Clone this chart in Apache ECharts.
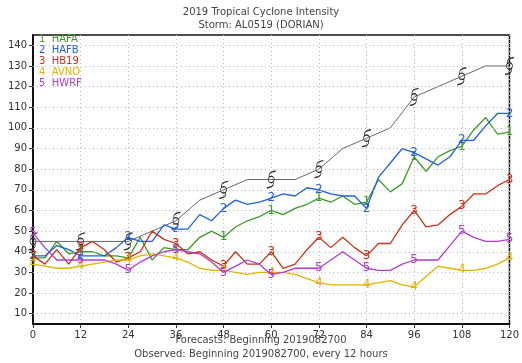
<!DOCTYPE html>
<html>
<head>
<meta charset="utf-8">
<script src="https://cdn.jsdelivr.net/npm/echarts@6/dist/echarts.min.js"></script>
<style>
html,body{margin:0;padding:0;background:#fff;}
#c{width:522px;height:363px;}
</style>
</head>
<body>
<div id="c"></div>
<script>
// ---- data ----
const modelHours = [0,3,6,9,12,15,18,21,24,27,30,33,36,39,42,45,48,51,54,57,60,63,66,69,72,75,78,81,84,87,90,93,96,99,102,105,108,111,114,117,120];
const obsHours = [0,6,12,18,24,30,36,42,48,54,60,66,72,78,84,90,96,102,108,114,120];
const markerHours = [0,12,24,36,48,60,72,84,96,108,120];

const HAFA = [37,37,45,39,40,40,38,38,37,47,36,42,41,41,47,50,47,52,55,57,60,58,61,63,66,64,67,63,64,75,69,73,86,79,86,89,91,99,105,97,98];
const HAFB = [38,38,43,41,38,38,38,42,47,45,45,53,51,51,58,55,61,65,63,64,66,68,67,71,70,68,67,67,61,76,83,90,88,85,82,86,94,94,101,107,107];
const HB19 = [38,34,41,34,42,45,41,35,37,40,50,46,44,39,40,36,33,40,34,34,40,32,34,41,47,42,47,42,38,44,44,53,60,52,53,58,62,68,68,72,75];
const AVNO = [34,33,32,32,33,34,35,36,36,38,39,38,37,35,32,31,31,30,29,30,30,30,29,27,25,24,24,24,24,25,26,24,23,28,33,32,31,31,32,34,37];
const HWRF = [49,42,36,36,36,36,36,34,31,35,38,40,41,40,39,35,30,33,36,34,29,30,32,32,32,36,40,36,32,31,31,34,36,36,36,43,50,47,45,45,46];
const OBS  = [45,45,45,45,45,50,55,65,70,75,75,75,80,90,95,100,115,120,125,130,130];

const modelNames = ['HAFA','HAFB','HB19','AVNO','HWRF'];
const modelLabels = ['1','2','3','4','5'];
const modelValues = [HAFA,HAFB,HB19,AVNO,HWRF];
const modelColors = ['#3c9a28','#2060d8','#c83218','#e2b400','#b23cc8'];

const yTicks = [10,20,30,40,50,60,70,80,90,100,110,120,130,140];

const titleLines = ['2019 Tropical Cyclone Intensity','Storm: AL0519 (DORIAN)'];
const footLines = ['Forecasts: Beginning 2019082700','Observed: Beginning 2019082700, every 12 hours'];

// ---- chart ----
const FONT = 'DejaVu Sans';
const hurricanePath = 'path://M8,8 A3,3 0 1,1 2,8 A3,3 0 1,1 8,8 Z M3,6 C2,2 5,0.5 9.5,0 M7,10 C8,14 5,15.5 0.5,16';

const series = [];
modelValues.forEach((vals, si) => {
  const data = vals.map((v, i) => {
    const h = modelHours[i];
    if (markerHours.indexOf(h) >= 0) {
      return {value:[h, v], symbol:'circle', symbolSize:1,
        label:{show:true, formatter: modelLabels[si]}};
    }
    return {value:[h, v], symbol:'none'};
  });
  series.push({
    name: modelNames[si], type:'line', data: data,
    showAllSymbol: true,
    lineStyle:{color: modelColors[si], width:1.3},
    itemStyle:{color:'rgba(0,0,0,0)'},
    label:{show:false, position:'inside', color: modelColors[si], fontFamily: FONT, fontSize: 12},
    emphasis:{disabled:true},
    animation:false, z: 3 + si
  });
});
series.push({
  name:'OBS', type:'line', showAllSymbol:true,
  data: OBS.map((v, i) => {
    const h = obsHours[i];
    if (markerHours.indexOf(h) >= 0) return {value:[h, v], symbol: hurricanePath, symbolSize:[9,17]};
    return {value:[h, v], symbol:'none'};
  }),
  lineStyle:{color:'#555', width:0.9},
  itemStyle:{color:'rgba(0,0,0,0)', borderColor:'#333', borderWidth:1},
  emphasis:{disabled:true},
  animation:false, z: 2
});
// horizontal dotted grid lines at the labelled y ticks
series.push({
  name:'grid', type:'line', data:[], silent:true, animation:false, z:1,
  markLine:{silent:true, symbol:['none','none'], animation:false,
    label:{show:false},
    lineStyle:{color:'#bbb', type:[1,3], width:1},
    emphasis:{disabled:true},
    data: yTicks.map(v => ({yAxis: v}))}
});

const graphics = [];
titleLines.forEach((t, i) => graphics.push({type:'text', left: 'center', top: 7 + i*13,
  style:{text:t, fill:'#444', font:'10px "DejaVu Sans"'}}));
footLines.forEach((t, i) => graphics.push({type:'text', left: 'center', top: 335 + i*14,
  style:{text:t, fill:'#444', font:'10px "DejaVu Sans"'}}));
modelNames.forEach((n, i) => graphics.push({type:'text', left: 39, top: 34 + i*11, z: 100,
  style:{text: modelLabels[i] + '  ' + n, fill: modelColors[i], font:'10px "DejaVu Sans"'}}));

const chart = echarts.init(document.getElementById('c'), null, {renderer:'canvas'});
chart.setOption({
  animation:false,
  backgroundColor:'#fff',
  grid:{left:33, right:5, top:35, bottom:39, show:true, borderColor:'#111', borderWidth:1.5, backgroundColor:'transparent'},
  xAxis:{type:'value', min:0, max:120, interval:12,
    axisLine:{show:true, lineStyle:{color:'#111', width:2}},
    axisTick:{show:true, length:4, lineStyle:{color:'#333'}},
    axisLabel:{color:'#333', fontFamily:FONT, fontSize:10, margin:6},
    splitLine:{show:true, lineStyle:{color:'#bbb', type:[1,3], width:1}}},
  yAxis:{type:'value', min:5, max:145,
    axisLine:{show:true, lineStyle:{color:'#111', width:2}},
    axisTick:{show:true, length:4, customValues: yTicks, lineStyle:{color:'#333'}},
    axisLabel:{color:'#333', fontFamily:FONT, fontSize:10, margin:6, customValues: yTicks},
    splitLine:{show:false}},
  graphic: graphics,
  series: series
});
</script>
</body>
</html>
